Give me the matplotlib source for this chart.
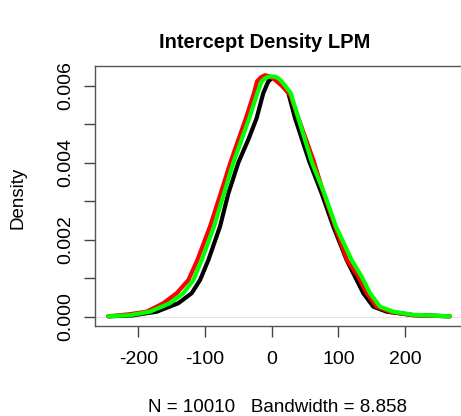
import matplotlib
matplotlib.use("Agg")
import matplotlib.pyplot as plt

plt.rcParams['font.family'] = ['Liberation Sans', 'DejaVu Sans']

# density curves (x, density)
black_x = [-245, -210, -172.5, -140, -120, -107.5, -95, -77.5, -65, -50, -35, -22.5, -12.5, -5, 2, 8, 14, 25, 35, 56, 75, 92.5, 112.5, 125, 137.5, 152.5, 172.5, 212, 267]
black_y = [0.00001, 0.00003, 0.00013, 0.00035, 0.00061, 0.00095, 0.00147, 0.00234, 0.0032, 0.004, 0.0046, 0.00516, 0.00581, 0.00611, 0.00622, 0.0062, 0.0061, 0.00581, 0.00516, 0.00405, 0.0032, 0.00234, 0.00147, 0.00104, 0.00061, 0.00026, 0.00013, 0.00004, 0.00001]

red_x = [-245, -215, -187.5, -162.5, -142.5, -125, -111.5, -92.5, -76.5, -62, -38.5, -26.5, -22, -16, -10, -3, 5, 15, 28, 40, 62.5, 78, 95, 113, 130, 142.5, 157.5, 177, 212, 267]
red_y = [0.00001, 0.00006, 0.00013, 0.00035, 0.00061, 0.00095, 0.00147, 0.00234, 0.0032, 0.004, 0.00516, 0.00581, 0.00611, 0.00622, 0.00627, 0.00624, 0.00615, 0.006, 0.00575, 0.00516, 0.00407, 0.0032, 0.00234, 0.00147, 0.00104, 0.00061, 0.00026, 0.00013, 0.00004, 0.00001]

green_x = [-245, -212, -182.5, -152.5, -132.5, -117.5, -105, -86.5, -71.5, -57.5, -33.5, -21.5, -15, -10, -5, 0, 5, 10, 15, 28.5, 40, 60.5, 79, 96.5, 120, 135, 147.5, 162.5, 182.5, 212, 267]
green_y = [0.00001, 0.00004, 0.00013, 0.00035, 0.00061, 0.00095, 0.00147, 0.00234, 0.0032, 0.004, 0.00516, 0.00581, 0.00611, 0.00619, 0.00623, 0.00624, 0.00623, 0.00619, 0.00611, 0.00581, 0.00516, 0.004, 0.0032, 0.00234, 0.00147, 0.00104, 0.00061, 0.00026, 0.00013, 0.00005, 0.00001]

x_ticks = [-200, -100, 0, 100, 200]
y_ticks = [0.0, 0.001, 0.002, 0.003, 0.004, 0.005, 0.006]
y_labels = ['0.000', '', '0.002', '', '0.004', '', '0.006']

W, H = 461, 416
fig = plt.figure(figsize=(W / 100, H / 100), dpi=100)
ax = fig.add_axes([95 / W, (H - 326) / H, (465 - 95) / W, (326 - 66) / H])

ax.axhline(0, color='#dddddd', lw=0.6, zorder=1)
ax.plot(black_x, black_y, color='black', lw=3, solid_capstyle='round', solid_joinstyle='round', zorder=2)
ax.plot(red_x, red_y, color='#ff0000', lw=3, solid_capstyle='round', solid_joinstyle='round', zorder=3)
ax.plot(green_x, green_y, color='#00ff00', lw=3, solid_capstyle='round', solid_joinstyle='round', zorder=4)

ax.set_xlim(-265, 290)
ax.set_ylim(-0.000242, 0.00651)
ax.set_xticks(x_ticks)
ax.set_xticklabels([str(v) for v in x_ticks])
ax.set_yticks(y_ticks)
ax.set_yticklabels(y_labels, rotation=90, va='center')
ax.tick_params(length=8, width=1, color='#444444', labelsize=14)
ax.tick_params(axis='x', pad=10)
ax.tick_params(axis='y', pad=7)
for s in ax.spines.values():
    s.set_color('#555555')
    s.set_linewidth(1)

fig.text(265 / W, 1 - 42 / H, 'Intercept Density LPM', ha='center', va='center',
         fontsize=14.5, fontweight='bold')
fig.text(278 / W, 1 - 407 / H, 'N = 10010   Bandwidth = 8.858', ha='center', va='center',
         fontsize=13.5)
fig.text(18 / W, 1 - 198 / H, 'Density', ha='center', va='center', rotation=90, fontsize=13.5)

fig.savefig('out.png', dpi=100)
